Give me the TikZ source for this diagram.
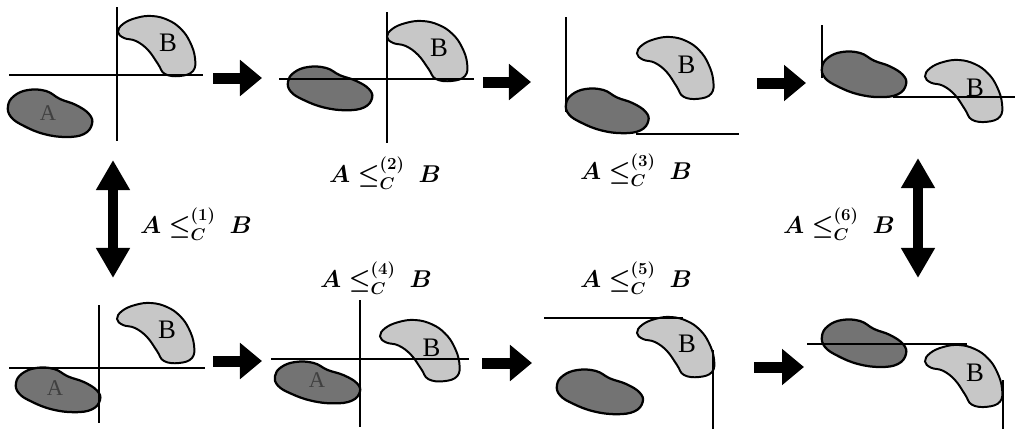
\documentclass[tikz,border=0pt]{standalone}
\usepackage{amsmath,amssymb}
\usepackage{fontspec}
\setmainfont{Liberation Serif}
\usetikzlibrary{positioning, arrows.meta}

\begin{document}
\begin{tikzpicture}[x=0.025cm, y=-0.025cm]
	\tikzset{
		axis/.style={line width=1pt},
		blobA/.style={draw, line width=1.6pt, fill=black!55},
		blobB/.style={draw, line width=1.4pt, fill=black!22},
		fat arrow/.style={line width=0.275cm, -{Triangle[length=0.55cm, width=0.875cm]}},
		fat double/.style={line width=0.25cm, {Triangle[length=0.75cm, width=0.8cm]}-{Triangle[length=0.75cm, width=0.8cm]}},
		rel/.style={font=\fontsize{18}{22}\selectfont\boldmath, inner sep=1pt},
		pics/beanA/.style={code={
			\draw[blobA] plot[smooth cycle, tension=0.7] coordinates {(0,16) (6,6) (20,0) (38,1) (52,9) (68,15) (81,24) (84,34) (76,44) (58,47) (36,44) (16,36) (3,27)};
		}},
		pics/beanB/.style={code={
			\draw[blobB] plot[smooth cycle, tension=0.7] coordinates {(0,16) (5,8) (18,2) (34,0) (50,4) (63,13) (72,26) (77,42) (75,55) (62,60) (47,58) (40,48) (30,34) (18,25) (6,22)};
			\node[font=\fontsize{19}{19}\selectfont] (#1) at (50,27) {B};
		}}
	}
	\useasboundingbox (0,0) rectangle (1015,429);

	% top row
	\pic at (8,90) {beanA};
	\node[text=black!75, font=\fontsize{16}{16}\selectfont] (la1) at (48,113) {A};
	\pic at (118,16) {beanB=b1};
	\draw[axis] (9,75) -- (203,75);
	\draw[axis] (117,7) -- (117,141);

	\pic[yscale=0.92] at (288,67) {beanA};
	\pic[xscale=1.04] at (387,21) {beanB=b2};
	\draw[axis] (279,79) -- (474,79);
	\draw[axis] (387,12) -- (387,143);

	\pic[xscale=0.98, yscale=0.94] at (566,89) {beanA};
	\pic[xscale=0.99, yscale=1.03] at (637,37) {beanB=b3};
	\draw[axis] (566,17) -- (566,112);
	\draw[axis] (636,134) -- (739,134);

	\pic[yscale=0.96] at (822,52) {beanA};
	\pic[yscale=1.03] at (925,60) {beanB=b4};
	\draw[axis] (822,25) -- (822,78);
	\draw[axis] (893,97) -- (1015,97);

	% bottom row
	\pic[yscale=0.94] at (16,368) {beanA};
	\node[text=black!75, font=\fontsize{16}{16}\selectfont] (la5) at (55,388) {A};
	\pic at (117,303) {beanB=b5};
	\draw[axis] (9,368) -- (205,368);
	\draw[axis] (99,305) -- (99,423);

	\pic[xscale=1.01, yscale=0.88] at (275,362) {beanA};
	\node[text=black!75, font=\fontsize{16}{16}\selectfont] (la6) at (317,380) {A};
	\pic[xscale=1.03, yscale=1.02] at (380,320) {beanB=b6};
	\draw[axis] (271,359) -- (469,359);
	\draw[axis] (360,300) -- (360,427);

	\pic[xscale=1.02, yscale=0.94] at (557,370) {beanA};
	\pic at (637,317) {beanB=b7};
	\draw[axis] (544,318) -- (683,318);
	\draw[axis] (713,350) -- (713,429);

	\pic at (822,320) {beanA};
	\pic[yscale=1.03] at (925,345) {beanB=b8};
	\draw[axis] (807,344) -- (967,344);
	\draw[axis] (1003,380) -- (1003,429);

	% arrows
	\coordinate (s1) at (213,78);  \coordinate (t1) at (262,78);
	\coordinate (s2) at (483,82);  \coordinate (t2) at (531,82);
	\coordinate (s3) at (757,83);  \coordinate (t3) at (806,83);
	\coordinate (s5) at (213,361); \coordinate (t5) at (262,361);
	\coordinate (s6) at (482,363); \coordinate (t6) at (532,363);
	\coordinate (s7) at (754,367); \coordinate (t7) at (804,367);
	\foreach \i in {1,2,3,5,6,7} {
		\draw[fat arrow] (s\i) -- (t\i);
	}
	\coordinate (uL) at (113,160); \coordinate (dL) at (113,278);
	\coordinate (uR) at (918,158); \coordinate (dR) at (918,278);
	\draw[fat double] (uL) -- (dL);
	\draw[fat double] (uR) -- (dR);

	% relations
	\node[rel] (r1) at (196,224) {$A \le_C^{(1)}\ B$};
	\node[rel] (r2) at (385,173) {$A \le_C^{(2)}\ B$};
	\node[rel] (r3) at (636,170) {$A \le_C^{(3)}\ B$};
	\node[rel] (r4) at (376,278) {$A \le_C^{(4)}\ B$};
	\node[rel] (r5) at (636,278) {$A \le_C^{(5)}\ B$};
	\node[rel] (r6) at (839,224) {$A \le_C^{(6)}\ B$};
\end{tikzpicture}
\end{document}
